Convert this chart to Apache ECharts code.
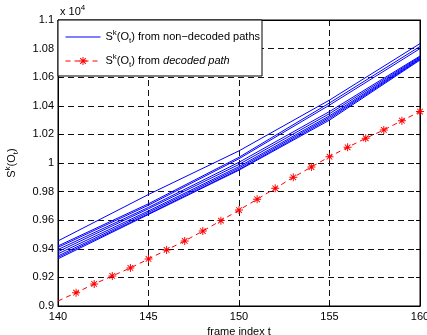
<!DOCTYPE html>
<html>
<head>
<meta charset="utf-8">
<script src="https://cdn.jsdelivr.net/npm/echarts@6/dist/echarts.min.js"></script>
<style>
  html, body { margin: 0; padding: 0; background: #fff; }
  #main { width: 427px; height: 335px; }
</style>
</head>
<body>
<div id="main"></div>
<script>
// frame index for the decoded path (one point per frame)
var frames = [140, 141, 142, 143, 144, 145, 146, 147, 148, 149, 150,
              151, 152, 153, 154, 155, 156, 157, 158, 159, 160];
var decoded = [0.9035, 0.9093, 0.9154, 0.9210, 0.9266, 0.9329, 0.9392, 0.9455, 0.9524, 0.9597, 0.9671,
               0.9746, 0.9823, 0.9900, 0.9972, 1.0044, 1.0110, 1.0173, 1.0231, 1.0296, 1.0360];

// non-decoded paths, read every 5 frames
var blueFrames = [140, 145, 150, 155, 160];
var nonDecoded = [
    [0.9455, 0.9780, 1.0085, 1.0440, 1.0835],
    [0.9420, 0.9715, 1.0040, 1.0420, 1.0815],
    [0.9410, 0.9705, 1.0030, 1.0405, 1.0800],
    [0.9395, 0.9690, 1.0005, 1.0360, 1.0748],
    [0.9380, 0.9680, 0.9990, 1.0345, 1.0742],
    [0.9365, 0.9665, 0.9975, 1.0330, 1.0736],
    [0.9350, 0.9655, 0.9965, 1.0320, 1.0730],
    [0.9340, 0.9645, 0.9955, 1.0310, 1.0725],
    [0.9330, 0.9640, 0.9950, 1.0300, 1.0720]
];

var xTicks = [140, 145, 150, 155, 160];
var yMin = 0.9, yMax = 1.1, yStep = 0.02;

var nameBlue = 'nondecoded';
var nameRed = 'decoded';

// asterisk marker
var star = 'path://M0 8.8L20 8.8L20 11.2L0 11.2Z' +
           'M8.8 0L11.2 0L11.2 20L8.8 20Z' +
           'M3.85 2.15L17.85 16.15L16.15 17.85L2.15 3.85Z' +
           'M17.85 3.85L3.85 17.85L2.15 16.15L16.15 2.15Z';

var font = 'Liberation Sans';
var rich = {
    n: { fontSize: 11, fontFamily: font, fontWeight: 'normal', color: '#000', lineHeight: 16 },
    sup: { fontSize: 8, fontFamily: font, fontWeight: 'normal', color: '#000', lineHeight: 16, verticalAlign: 'top' },
    sub: { fontSize: 8, fontFamily: font, fontWeight: 'normal', color: '#000', lineHeight: 16, verticalAlign: 'bottom' },
    i: { fontSize: 11, fontFamily: font, fontWeight: 'normal', color: '#000', lineHeight: 16, fontStyle: 'italic' }
};

var series = [];
nonDecoded.forEach(function (row) {
    series.push({
        name: nameBlue,
        type: 'line',
        showSymbol: false,
        symbol: 'none',
        color: '#0000ff',
        lineStyle: { color: '#0000ff', width: 1 },
        data: blueFrames.map(function (t, i) { return [t, row[i]]; })
    });
});
series.push({
    name: nameRed,
    type: 'line',
    symbol: star,
    symbolSize: 8,
    color: '#ff0000',
    itemStyle: { color: '#ff0000' },
    lineStyle: { color: '#ff0000', width: 1, type: [5, 4] },
    data: frames.map(function (t, i) {
        // first frame is drawn without a marker in the original
        return i === 0 ? { value: [t, decoded[i]], symbol: 'none' } : [t, decoded[i]];
    })
});

var gridLine = { show: true, lineStyle: { color: '#111', type: [6, 4], width: 1 } };

var myChart = echarts.init(document.getElementById('main'));
var option = {
    animation: false,
    backgroundColor: '#fff',
    title: {
        text: '{n|x 10}{sup|4}',
        left: 55,
        top: -1,
        textStyle: { fontWeight: 'normal', rich: rich }
    },
    legend: {
        data: [
            { name: nameBlue, itemStyle: { opacity: 0 } },
            { name: nameRed }
        ],
        orient: 'vertical',
        left: 58,
        top: 20,
        padding: [9, 2, 7, 7],
        itemWidth: 35,
        itemHeight: 10,
        itemGap: 8,
        backgroundColor: '#fff',
        borderColor: '#000',
        borderWidth: 1,
        borderRadius: 0,
        lineStyle: { width: 1 },
        textStyle: { rich: rich },
        formatter: function (name) {
            if (name === nameBlue) {
                return '{n|S}{sup|k}{n|(O}{sub|t}{n|) from non\u2212decoded paths}';
            }
            return '{n|S}{sup|k}{n|(O}{sub|t}{n|) from }{i|decoded path}';
        }
    },
    grid: {
        left: 58,
        right: 7,
        top: 20,
        bottom: 29,
        outerBoundsMode: 'none',
        containLabel: false,
        show: true,
        borderColor: '#000',
        borderWidth: 1
    },
    xAxis: [{
        type: 'value',
        min: xTicks[0],
        max: xTicks[xTicks.length - 1],
        interval: 5,
        name: 'frame index t',
        nameLocation: 'middle',
        nameGap: 17,
        nameTextStyle: { fontFamily: font, fontSize: 11, color: '#000' },
        axisLine: { show: true, lineStyle: { color: '#000' } },
        axisTick: { show: true, inside: true, length: 4, lineStyle: { color: '#000' } },
        axisLabel: { fontFamily: font, fontSize: 11, color: '#000', margin: 5 },
        splitLine: gridLine
    }, {
        type: 'value',
        position: 'top',
        min: xTicks[0],
        max: xTicks[xTicks.length - 1],
        interval: 5,
        axisLine: { show: true, lineStyle: { color: '#000' } },
        axisTick: { show: true, inside: true, length: 4, lineStyle: { color: '#000' } },
        axisLabel: { show: false },
        splitLine: { show: false }
    }],
    yAxis: [{
        type: 'value',
        min: yMin,
        max: yMax,
        interval: yStep,
        name: '{n|S}{sup|k}{n|(O}{sub|t}{n|)}',
        nameLocation: 'middle',
        nameRotate: 90,
        nameGap: 38,
        nameTextStyle: { rich: rich },
        axisLine: { show: true, lineStyle: { color: '#000' } },
        axisTick: { show: true, inside: true, length: 4, lineStyle: { color: '#000' } },
        axisLabel: {
            fontFamily: font, fontSize: 11, color: '#000', margin: 4,
            formatter: function (v) { return String(parseFloat(v.toFixed(2))); }
        },
        splitLine: gridLine
    }, {
        type: 'value',
        position: 'right',
        min: yMin,
        max: yMax,
        interval: yStep,
        axisLine: { show: true, lineStyle: { color: '#000' } },
        axisTick: { show: true, inside: true, length: 4, lineStyle: { color: '#000' } },
        axisLabel: { show: false },
        splitLine: { show: false }
    }],
    series: series
};
myChart.setOption(option);
</script>
</body>
</html>
